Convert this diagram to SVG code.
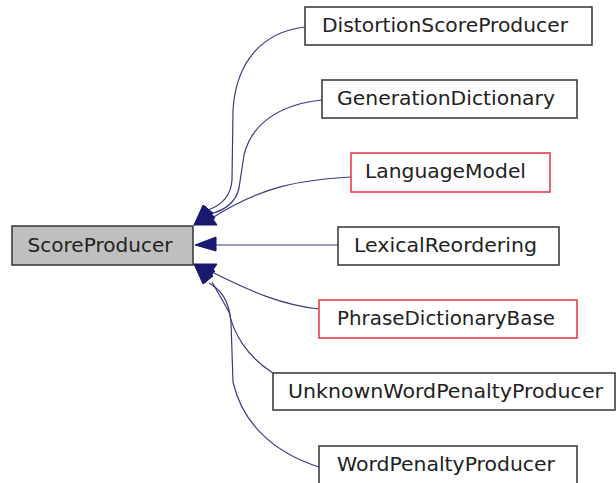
<svg xmlns="http://www.w3.org/2000/svg" width="616" height="483" viewBox="0 0 616 483">
<style>
.n rect{fill:#fff;stroke:#333;stroke-width:1.5}
.n.red rect{stroke:#e8313b}
.n.base rect{fill:#bfbfbf}
.n text{font-family:"DejaVu Sans",Verdana,sans-serif;font-size:19px;fill:#222;text-anchor:middle}
.e path{fill:none;stroke:#3b3b80;stroke-width:1.2}
.e polygon{fill:#191970;stroke:#191970;stroke-width:1}
</style>
<rect width="616" height="483" fill="#fff"/>
<g class="e" id="edges">
<path d="M305,27 C262,32 236,62 233,110 L232,180 C231,196 222,205 208,210"/>
<path d="M322,100 C282,104 252,122 244,155 L239,188 C236,202 226,210 210,214"/>
<path d="M351,177 C300,180 262,186 212,218"/>
<path d="M338,245 L215,245"/>
<path d="M319,309 C282,305 252,292 214,273"/>
<path d="M273,373 C246,356 233,332 229,312 L212,282"/>
<path d="M319,467 C272,452 242,422 233,382 L231,322 C229,300 221,290 209,283"/>
<polygon points="194,225 203,205 213,213"/>
<polygon points="194,225 205,206 215,218"/>
<polygon points="194,225 207,210 217,225"/>
<polygon points="195,245 216,237 216,251"/>
<polygon points="194,264 203,284 213,276"/>
<polygon points="194,264 205,283 215,271"/>
<polygon points="194,264 207,279 217,264"/>
</g>
<g class="n base" id="ScoreProducer"><rect x="12" y="226" width="181" height="39"/><text x="100" y="252" textLength="145" lengthAdjust="spacingAndGlyphs">ScoreProducer</text></g>
<g class="n" id="DistortionScoreProducer"><rect x="305" y="7" width="287" height="38"/><text x="445" y="32" textLength="246" lengthAdjust="spacingAndGlyphs">DistortionScoreProducer</text></g>
<g class="n" id="GenerationDictionary"><rect x="322" y="80" width="255" height="38"/><text x="446" y="105" textLength="218" lengthAdjust="spacingAndGlyphs">GenerationDictionary</text></g>
<g class="n red" id="LanguageModel"><rect x="351" y="153" width="199" height="39"/><text x="445.5" y="178" textLength="161" lengthAdjust="spacingAndGlyphs">LanguageModel</text></g>
<g class="n" id="LexicalReordering"><rect x="338" y="227" width="221" height="38"/><text x="445.5" y="252" textLength="183" lengthAdjust="spacingAndGlyphs">LexicalReordering</text></g>
<g class="n red" id="PhraseDictionaryBase"><rect x="319" y="300" width="258" height="38"/><text x="446" y="325" textLength="218" lengthAdjust="spacingAndGlyphs">PhraseDictionaryBase</text></g>
<g class="n" id="UnknownWordPenaltyProducer"><rect x="273" y="373" width="342" height="37"/><text x="445.5" y="398" textLength="315" lengthAdjust="spacingAndGlyphs">UnknownWordPenaltyProducer</text></g>
<g class="n" id="WordPenaltyProducer"><rect x="319" y="446" width="258" height="39"/><text x="446" y="471" textLength="218" lengthAdjust="spacingAndGlyphs">WordPenaltyProducer</text></g>
</svg>
